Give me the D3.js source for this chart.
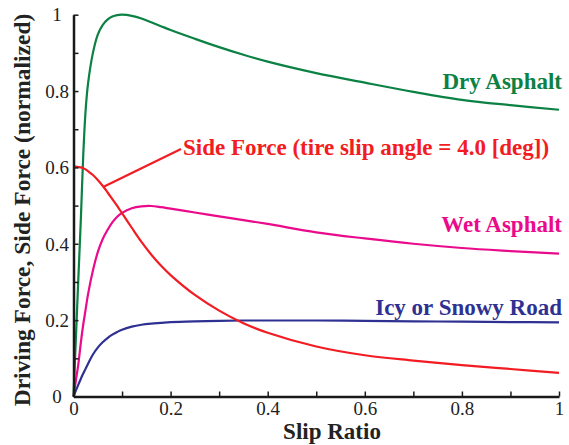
<!DOCTYPE html>
<html>
<head>
<meta charset="utf-8">
<script src="https://cdn.jsdelivr.net/npm/d3@7"></script>
<style>
  html, body { margin: 0; padding: 0; background: #fff; }
  svg { display: block; }
  svg text { font-family: "Liberation Serif", serif; }
</style>
</head>
<body>
<svg id="chart" width="569" height="445"></svg>
<script>
// Slip ratio samples (denser near zero where the curves rise fastest)
const slip = [0, 0.005, 0.01, 0.015, 0.02, 0.025, 0.03, 0.04, 0.05, 0.06, 0.07, 0.08, 0.09, 0.1,
              0.12, 0.14, 0.16, 0.18, 0.2, 0.25, 0.3, 0.35, 0.4, 0.5, 0.6, 0.7, 0.8, 0.9, 1.0];

// Normalized driving force for each road surface
const dryAsphalt = [0, 0.155, 0.31, 0.46, 0.63, 0.75, 0.82, 0.90, 0.948, 0.973, 0.987, 0.995, 0.999, 1.0,
                    0.997, 0.99, 0.98, 0.97, 0.96, 0.937, 0.915, 0.895, 0.877, 0.847, 0.822, 0.798, 0.777, 0.763, 0.751];
const wetAsphalt = [0, 0.043, 0.085, 0.14, 0.188, 0.228, 0.268, 0.33, 0.378, 0.412, 0.436, 0.456, 0.471, 0.481,
                    0.493, 0.498, 0.499, 0.496, 0.492, 0.482, 0.472, 0.462, 0.452, 0.430, 0.414, 0.400, 0.389, 0.381, 0.374];
const icyRoad    = [0, 0.016, 0.031, 0.046, 0.06, 0.073, 0.086, 0.11, 0.128, 0.142, 0.153, 0.162, 0.169, 0.175,
                    0.183, 0.188, 0.191, 0.193, 0.195, 0.197, 0.198, 0.199, 0.199, 0.199, 0.198, 0.197, 0.196, 0.195, 0.194];
// Normalized side force at a tire slip angle of 4.0 deg
const sideForce  = [0.603, 0.602, 0.601, 0.6, 0.598, 0.595, 0.59, 0.58, 0.567, 0.552, 0.535, 0.517, 0.499, 0.48,
                    0.442, 0.405, 0.372, 0.343, 0.318, 0.266, 0.225, 0.192, 0.167, 0.131, 0.108, 0.094, 0.082, 0.072, 0.062];

const xTicks = [0, 0.1, 0.2, 0.3, 0.4, 0.5, 0.6, 0.7, 0.8, 0.9, 1];
const yTicks = [0, 0.1, 0.2, 0.3, 0.4, 0.5, 0.6, 0.7, 0.8, 0.9, 1];
const tickLabels = ["0", "", "0.2", "", "0.4", "", "0.6", "", "0.8", "", "1"];

const series = [
  { name: "Dry Asphalt", values: dryAsphalt, color: "#0b8143" },
  { name: "Wet Asphalt", values: wetAsphalt, color: "#ea0a8c" },
  { name: "Icy or Snowy Road", values: icyRoad, color: "#2e3192" },
  { name: "Side Force (tire slip angle = 4.0 [deg])", values: sideForce, color: "#f21c22" }
];

const serif = '"Liberation Serif", serif';
const svg = d3.select("#chart");
const x = d3.scaleLinear().domain([0, 1]).range([73.5, 559]);
const y = d3.scaleLinear().domain([0, 1]).range([396.5, 14.7]);

// Curves
const line = d3.line()
  .x((d, i) => x(slip[i]))
  .y(d => y(d))
  .curve(d3.curveCatmullRom.alpha(0.5));

svg.append("g").selectAll("path")
  .data(series)
  .join("path")
  .attr("d", d => line(d.values))
  .attr("fill", "none")
  .attr("stroke", d => d.color)
  .attr("stroke-width", 2.2);

// Axes with inward ticks
const xAxis = svg.append("g")
  .attr("transform", `translate(0,${y(0)})`)
  .call(d3.axisBottom(x).tickValues(xTicks).tickSizeInner(-5).tickSizeOuter(0)
    .tickFormat((d, i) => tickLabels[i]));
const yAxis = svg.append("g")
  .attr("transform", `translate(${x(0)},0)`)
  .call(d3.axisLeft(y).tickValues(yTicks).tickSizeInner(-5).tickSizeOuter(0)
    .tickFormat((d, i) => tickLabels[i]));

[xAxis, yAxis].forEach(g => {
  g.attr("font-family", serif).attr("font-size", 19);
  g.select(".domain").attr("stroke", "#1a1a1a").attr("stroke-width", 2.5);
  g.selectAll(".tick line").attr("stroke", "#1a1a1a").attr("stroke-width", 1.5);
  g.selectAll(".tick text").attr("fill", "#222");
});
xAxis.selectAll(".tick text").attr("y", 5).attr("dy", "0.71em");
yAxis.selectAll(".tick text").attr("text-anchor", "middle").attr("x", 57 - x(0)).attr("dy", "0.33em");

// Axis titles
svg.append("text")
  .attr("x", 332).attr("y", 438.5)
  .attr("text-anchor", "middle")
  .attr("font-family", serif)
  .attr("font-weight", "bold")
  .attr("font-size", 23)
  .attr("fill", "#222")
  .text("Slip Ratio");

svg.append("text")
  .attr("transform", "translate(30,210) rotate(-90)")
  .attr("text-anchor", "middle")
  .attr("font-family", serif)
  .attr("font-weight", "bold")
  .attr("font-size", 23.5)
  .attr("fill", "#222")
  .text("Driving Force, Side Force (normalized)");

// Curve labels
const labels = [
  { s: series[0], x: 562, y: 89, anchor: "end" },
  { s: series[1], x: 562, y: 231.5, anchor: "end" },
  { s: series[2], x: 562, y: 315, anchor: "end" },
  { s: series[3], x: 183, y: 155, anchor: "start" }
];
svg.append("g").selectAll("text")
  .data(labels)
  .join("text")
  .attr("x", d => d.x).attr("y", d => d.y)
  .attr("text-anchor", d => d.anchor)
  .attr("font-family", serif)
  .attr("font-weight", "bold")
  .attr("font-size", 23)
  .attr("fill", d => d.s.color)
  .text(d => d.s.name);

// Leader from the side-force curve to its label
const leaderIdx = 9; // slip = 0.06
svg.append("line")
  .attr("x1", x(slip[leaderIdx]) + 1).attr("y1", y(sideForce[leaderIdx]) + 1)
  .attr("x2", 181).attr("y2", 149)
  .attr("stroke", series[3].color)
  .attr("stroke-width", 2.2);
</script>
</body>
</html>
